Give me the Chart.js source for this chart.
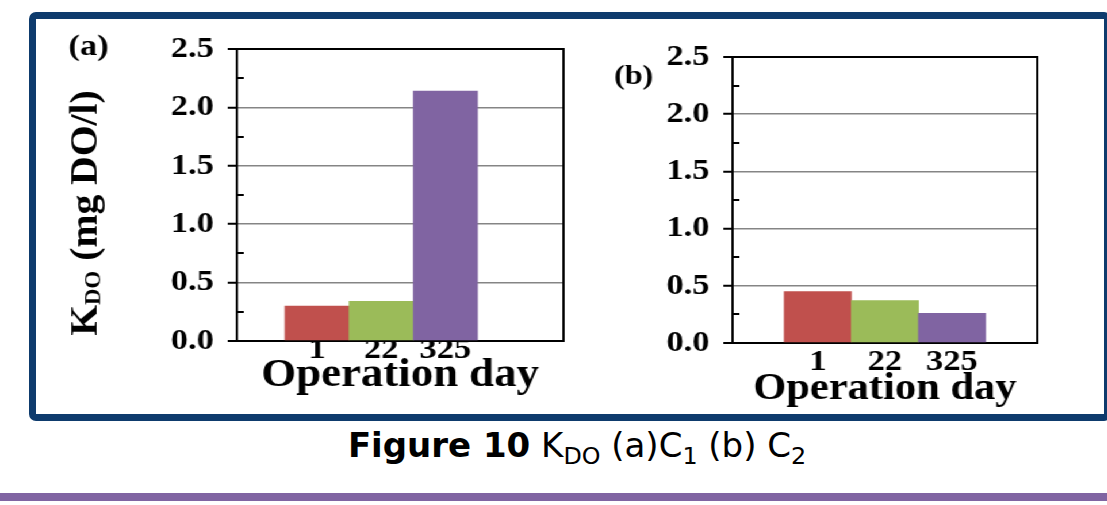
<!DOCTYPE html>
<html>
<head>
<meta charset="utf-8">
<title>Figure 10 KDO</title>
<script src="https://cdn.jsdelivr.net/npm/chart.js@4.4.1/dist/chart.umd.min.js"></script>
<style>
  html, body { margin: 0; padding: 0; background: #fff; }
  body { width: 1107px; height: 505px; position: relative; overflow: hidden; }
  .frame {
    position: absolute; left: 29px; top: 12px; width: 1082px; height: 409px;
    box-sizing: border-box; border: 7px solid #0e3b6d; border-radius: 7px;
  }
  /* the two panels are drawn narrow and widened here, like the serif figure text */
  .panels {
    position: absolute; left: 0; top: 0; width: 962px; height: 420px;
    transform: scaleX(1.15); transform-origin: 0 0;
  }
  .panels canvas { position: absolute; top: 0; }
  #chartA { left: 0; }
  #chartB { left: 520px; }
  .caption {
    position: absolute; left: 577px; top: 425px; transform: translateX(-50%);
    white-space: nowrap; font-family: "DejaVu Sans", Verdana, sans-serif;
    font-size: 34px; line-height: 40px; color: #000;
  }
  .caption b { font-weight: bold; }
  .caption sub { font-size: 0.7em; vertical-align: -0.28em; line-height: 0; }
  .rule { position: absolute; left: 0; top: 493px; width: 1107px; height: 8px; background: #8064a2; }
</style>
</head>
<body>
<div class="frame"></div>
<div class="panels">
  <canvas id="chartA" width="520" height="420"></canvas>
  <canvas id="chartB" width="442" height="420"></canvas>
</div>
<div class="caption"><b>Figure 10</b> K<sub>DO</sub> (a)C<sub>1</sub> (b) C<sub>2</sub></div>
<div class="rule"></div>

<script>
// operation days, placed one bar width apart
const dayLabels = ['1', '22', '325'];
const dayPositions = [1, 2, 3];

// K_DO (mg DO/l) for reactors C1 and C2
const kdoC1 = [0.30, 0.34, 2.14];
const kdoC2 = [0.45, 0.37, 0.26];

const yTicks = [0, 0.5, 1.0, 1.5, 2.0, 2.5];
const barColors = ['#c0504d', '#9bbb59', '#8064a2'];

const SERIF = '"Liberation Serif", "Times New Roman", serif';

// plot box right edge, inner minor ticks, panel letter and the value axis title
const panelDecor = {
    id: 'panelDecor',
    afterDraw: function (chart, args, opts) {
        var ctx = chart.ctx;
        var area = chart.chartArea;
        var y = chart.scales.y;
        ctx.save();
        ctx.strokeStyle = '#000';
        ctx.lineWidth = 2;
        ctx.beginPath();
        ctx.moveTo(area.right, area.top - 1);
        ctx.lineTo(area.right, area.bottom + 1);
        for (var i = 1; i < yTicks.length; i++) {
            var py = Math.round(y.getPixelForValue((yTicks[i - 1] + yTicks[i]) / 2));
            ctx.moveTo(area.left, py);
            ctx.lineTo(area.left + 6, py);
        }
        ctx.stroke();

        ctx.fillStyle = '#000';
        ctx.font = 'bold ' + opts.letterSize + 'px ' + SERIF;
        ctx.textAlign = 'center';
        ctx.textBaseline = 'middle';
        ctx.fillText(opts.letter, opts.letterX, opts.letterY);

        if (opts.yTitle) {
            var big = 'bold 33px ' + SERIF;
            var small = 'bold 19px ' + SERIF;
            ctx.translate(opts.yTitle.x, opts.yTitle.y);
            ctx.rotate(-Math.PI / 2);
            ctx.scale(1.2, 1);
            ctx.textAlign = 'left';
            ctx.textBaseline = 'alphabetic';
            ctx.font = big;
            var wK = ctx.measureText('K').width;
            var wRest = ctx.measureText(' (mg DO/l)').width;
            ctx.font = small;
            var wSub = ctx.measureText('DO').width;
            var x = -(wK + wSub + wRest) / 2;
            ctx.font = big;
            ctx.fillText('K', x, 0);
            x += wK;
            ctx.font = small;
            ctx.fillText('DO', x, 3);
            x += wSub;
            ctx.font = big;
            ctx.fillText(' (mg DO/l)', x, 0);
        }
        ctx.restore();
    }
};

function panelChart(canvasId, values, cfg) {
    return new Chart(document.getElementById(canvasId), {
        type: 'bar',
        data: {
            datasets: [{
                data: dayPositions.map(function (pos, i) {
                    return { x: pos, y: values[i] };
                }),
                backgroundColor: barColors,
                borderWidth: 0,
                barPercentage: 1,
                categoryPercentage: 1
            }]
        },
        options: {
            responsive: false,
            animation: false,
            events: [],
            layout: { padding: cfg.padding },
            plugins: {
                legend: { display: false },
                tooltip: { enabled: false },
                panelDecor: cfg.decor
            },
            scales: {
                x: {
                    type: 'linear',
                    offset: false,
                    min: cfg.xMin,
                    max: cfg.xMax,
                    afterBuildTicks: function (scale) {
                        scale.ticks = dayPositions.map(function (v) { return { value: v }; });
                    },
                    afterFit: function (scale) { scale.height = cfg.xHeight; },
                    grid: { display: false, drawTicks: false, offset: false },
                    border: { color: '#000', width: 2 },
                    ticks: {
                        callback: function (v) { return dayLabels[dayPositions.indexOf(v)]; },
                        font: { family: SERIF, size: 30, weight: 'bold', lineHeight: 1 },
                        color: '#000',
                        padding: cfg.xTickPad,
                        autoSkip: false,
                        maxRotation: 0
                    },
                    title: {
                        display: true,
                        text: 'Operation day',
                        color: '#000',
                        font: { family: SERIF, size: cfg.titleSize, weight: 'bold', lineHeight: 1 },
                        padding: { top: 0, bottom: cfg.titlePad }
                    }
                },
                y: {
                    min: 0,
                    max: 2.5,
                    afterBuildTicks: function (scale) {
                        scale.ticks = yTicks.map(function (v) { return { value: v }; });
                    },
                    afterFit: function (scale) { scale.width = cfg.yWidth; },
                    grid: {
                        color: function (c) {
                            var v = c.tick ? c.tick.value : 0;
                            return (v === 0 || v === 2.5) ? '#000' : '#858585';
                        },
                        lineWidth: function (c) {
                            var v = c.tick ? c.tick.value : 0;
                            return (v === 0 || v === 2.5) ? 2 : 1.5;
                        },
                        tickLength: 8,
                        tickColor: '#000',
                        tickWidth: 2
                    },
                    border: { color: '#000', width: 2 },
                    ticks: {
                        callback: function (v) { return v.toFixed(1); },
                        font: { family: SERIF, size: 30, weight: 'bold', lineHeight: 1 },
                        color: '#000',
                        padding: 12
                    }
                }
            }
        },
        plugins: [panelDecor]
    });
}

panelChart('chartA', kdoC1, {
    padding: { left: 0, top: 49, right: 30, bottom: 0 },
    yWidth: 206,
    xHeight: 79,
    xMin: -0.25,
    xMax: 4.84,
    xTickPad: -6,
    titleSize: 39,
    titlePad: 25,
    decor: { letter: '(a)', letterSize: 30, letterX: 77, letterY: 47, yTitle: { x: 84, y: 213 } }
});

panelChart('chartB', kdoC2, {
    padding: { left: 0, top: 57, right: 60, bottom: 0 },
    yWidth: 117,
    xHeight: 77,
    xMin: -0.27,
    xMax: 4.27,
    xTickPad: 4,
    titleSize: 37,
    titlePad: 12,
    decor: { letter: '(b)', letterSize: 28, letterX: 31, letterY: 77 }
});
</script>
</body>
</html>
